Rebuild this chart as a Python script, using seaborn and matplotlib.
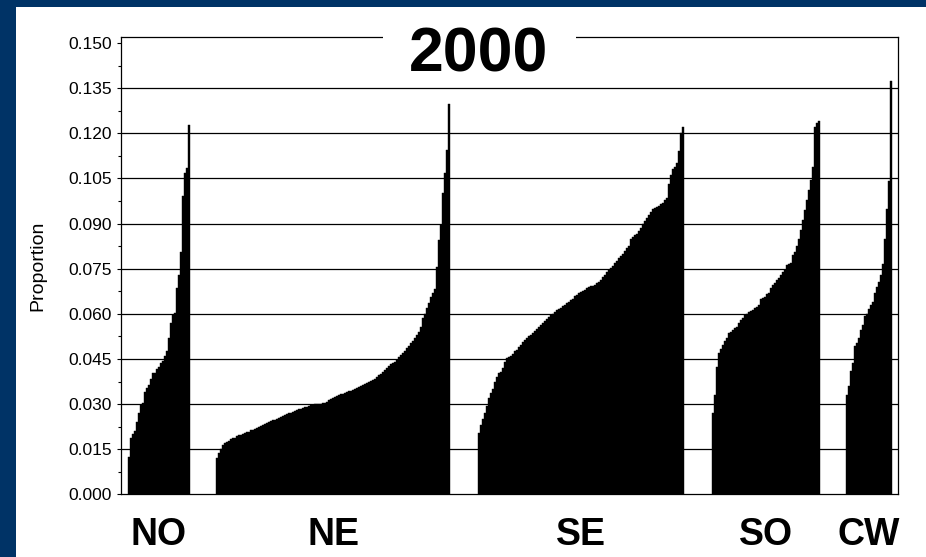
import numpy as np
import pandas as pd
import matplotlib
matplotlib.use("Agg")
import matplotlib.pyplot as plt
from matplotlib.patches import Rectangle
from matplotlib.ticker import AutoMinorLocator
import seaborn as sns

# ---------------- data ----------------
regions = ["NO", "NE", "SE", "SO", "CW"]

no_vals = [0.0125, 0.0186, 0.0201, 0.0210, 0.0240, 0.0270, 0.0297, 0.0304, 0.0340, 0.0355,
           0.0365, 0.0385, 0.0402, 0.0405, 0.0416, 0.0425, 0.0436, 0.0443, 0.0460, 0.0478,
           0.0520, 0.0570, 0.0596, 0.0602, 0.0685, 0.0730, 0.0807, 0.0990, 0.1069, 0.1084,
           0.1228]

ne_vals = [0.0120, 0.0137, 0.0150, 0.0164, 0.0170, 0.0175, 0.0178, 0.0183, 0.0186, 0.0189,
           0.0193, 0.0196, 0.0198, 0.0201, 0.0204, 0.0206, 0.0209, 0.0213, 0.0215, 0.0218,
           0.0222, 0.0224, 0.0227, 0.0231, 0.0234, 0.0237, 0.0240, 0.0243, 0.0246, 0.0248,
           0.0252, 0.0255, 0.0258, 0.0261, 0.0263, 0.0266, 0.0269, 0.0272, 0.0274, 0.0277,
           0.0280, 0.0283, 0.0285, 0.0287, 0.0290, 0.0292, 0.0294, 0.0296, 0.0297, 0.0299,
           0.0300, 0.0301, 0.0302, 0.0303, 0.0305, 0.0308, 0.0313, 0.0317, 0.0320, 0.0323,
           0.0327, 0.0330, 0.0332, 0.0334, 0.0337, 0.0340, 0.0343, 0.0345, 0.0347, 0.0350,
           0.0354, 0.0358, 0.0361, 0.0364, 0.0367, 0.0370, 0.0373, 0.0376, 0.0379, 0.0382,
           0.0390, 0.0396, 0.0401, 0.0407, 0.0414, 0.0420, 0.0426, 0.0432, 0.0437, 0.0441,
           0.0448, 0.0455, 0.0462, 0.0470, 0.0478, 0.0486, 0.0494, 0.0502, 0.0510, 0.0520,
           0.0530, 0.0540, 0.0555, 0.0585, 0.0600, 0.0618, 0.0635, 0.0655, 0.0668, 0.0682,
           0.0757, 0.0845, 0.0895, 0.1000, 0.1067, 0.1145, 0.1297]

se_vals = [0.0203, 0.0231, 0.0250, 0.0270, 0.0295, 0.0320, 0.0338, 0.0350, 0.0372, 0.0390,
           0.0402, 0.0408, 0.0419, 0.0440, 0.0452, 0.0455, 0.0460, 0.0466, 0.0475, 0.0480,
           0.0490, 0.0497, 0.0505, 0.0512, 0.0519, 0.0525, 0.0530, 0.0535, 0.0543, 0.0548,
           0.0555, 0.0562, 0.0568, 0.0575, 0.0582, 0.0588, 0.0595, 0.0600, 0.0606, 0.0612,
           0.0617, 0.0621, 0.0625, 0.0630, 0.0636, 0.0640, 0.0646, 0.0651, 0.0658, 0.0664,
           0.0669, 0.0673, 0.0676, 0.0680, 0.0685, 0.0688, 0.0691, 0.0693, 0.0696, 0.0701,
           0.0707, 0.0714, 0.0722, 0.0730, 0.0738, 0.0745, 0.0752, 0.0760, 0.0768, 0.0776,
           0.0784, 0.0792, 0.0800, 0.0808, 0.0818, 0.0826, 0.0848, 0.0856, 0.0862, 0.0866,
           0.0875, 0.0885, 0.0898, 0.0908, 0.0920, 0.0930, 0.0940, 0.0947, 0.0952, 0.0956,
           0.0960, 0.0966, 0.0970, 0.0978, 0.0984, 0.1030, 0.1060, 0.1080, 0.1089, 0.1100,
           0.1140, 0.1200, 0.1222]

so_vals = [0.0270, 0.0330, 0.0424, 0.0469, 0.0482, 0.0497, 0.0510, 0.0519, 0.0535, 0.0540,
           0.0546, 0.0552, 0.0557, 0.0571, 0.0578, 0.0585, 0.0595, 0.0600, 0.0607, 0.0610,
           0.0613, 0.0620, 0.0624, 0.0630, 0.0648, 0.0652, 0.0657, 0.0665, 0.0670, 0.0685,
           0.0695, 0.0702, 0.0713, 0.0720, 0.0729, 0.0740, 0.0746, 0.0762, 0.0766, 0.0768,
           0.0796, 0.0807, 0.0825, 0.0850, 0.0880, 0.0912, 0.0945, 0.0978, 0.1012, 0.1045,
           0.1089, 0.1222, 0.1233, 0.1242]

cw_vals = [0.0331, 0.0361, 0.0409, 0.0438, 0.0492, 0.0503, 0.0520, 0.0545, 0.0564, 0.0592,
           0.0598, 0.0617, 0.0630, 0.0640, 0.0670, 0.0690, 0.0705, 0.0730, 0.0765, 0.0850,
           0.0950, 0.1042, 0.1375]

title_text = "2000"
ylabel_text = "Proportion"
ytick_values = [0.000, 0.015, 0.030, 0.045, 0.060, 0.075, 0.090, 0.105, 0.120, 0.135, 0.150]
ytick_labels = ["0.000", "0.015", "0.030", "0.045", "0.060", "0.075", "0.090",
                "0.105", "0.120", "0.135", "0.150"]

# ---------------- layout ----------------
W, H = 926, 557
NAVY = "#003366"
first_pos = 4
gaps = [14, 15, 15, 14]          # empty spacing between groups (in bar slots)

groups = [no_vals, ne_vals, se_vals, so_vals, cw_vals]
rows = []
centers = []
start = first_pos
for gi, (name, vals) in enumerate(zip(regions, groups)):
    pos = np.arange(start, start + len(vals))
    centers.append(pos.mean())
    for p, v in zip(pos, vals):
        rows.append({"pos": p, "value": v, "region": name})
    if gi < len(gaps):
        start = pos[-1] + gaps[gi]
df = pd.DataFrame(rows)

plt.rcParams["font.family"] = ["Liberation Sans", "DejaVu Sans"]

fig = plt.figure(figsize=(W / 100, H / 100), dpi=100)
fig.patch.set_facecolor(NAVY)
fig.add_artist(Rectangle((16 / W, 0), 1, 1 - 7 / H, transform=fig.transFigure,
                         facecolor="white", edgecolor="none", zorder=-1))

ax_left, ax_right, ax_top, ax_bot = 121, 898, 37, 494.4
ax = fig.add_axes([ax_left / W, 1 - ax_bot / H, (ax_right - ax_left) / W, (ax_bot - ax_top) / H])
ax.set_facecolor("white")

sns.barplot(data=df, x="pos", y="value", native_scale=True, color="black",
            saturation=1, width=1.0, errorbar=None, edgecolor="black",
            linewidth=0.3, ax=ax)

ax.set_xlim(0, (ax_right - ax_left) / 2)
ax.set_ylim(0, 0.1520)

ax.set_yticks(ytick_values)
ax.set_yticklabels(ytick_labels)
ax.yaxis.set_minor_locator(AutoMinorLocator(2))
ax.tick_params(axis="y", which="major", length=3, width=0.8, color="black",
               labelsize=12.5, pad=3.5, labelcolor="black")
ax.tick_params(axis="y", which="minor", length=2, width=0.8, color="black")

ax.set_xticks(centers)
ax.set_xticklabels(regions, fontsize=27, fontweight="bold")
ax.tick_params(axis="x", length=0, pad=16)

ax.set_axisbelow(True)
ax.yaxis.grid(True, color="black", linewidth=0.9)
ax.xaxis.grid(False)
gl = ax.get_ygridlines()
gl[0].set_visible(False)
gl[-1].set_visible(False)

for s in ax.spines.values():
    s.set_color("black")
    s.set_linewidth(0.9)
    s.set_visible(True)

ax.set_xlabel("")
ax.set_ylabel("")

fig.text(38 / W, 1 - 265.7 / H, ylabel_text, rotation=90, ha="center", va="center",
         fontsize=14, color="black")

# title box breaking the top frame
fig.add_artist(Rectangle((383 / W, 1 - 45 / H), (576 - 383) / W, 16 / H,
                         transform=fig.transFigure, facecolor="white",
                         edgecolor="none", zorder=5))
fig.text(479 / W, 1 - 71.7 / H, title_text, ha="center", va="baseline",
         fontsize=45, fontweight="bold", color="black", zorder=6)

fig.savefig("out.png", dpi=100, facecolor=fig.get_facecolor())
